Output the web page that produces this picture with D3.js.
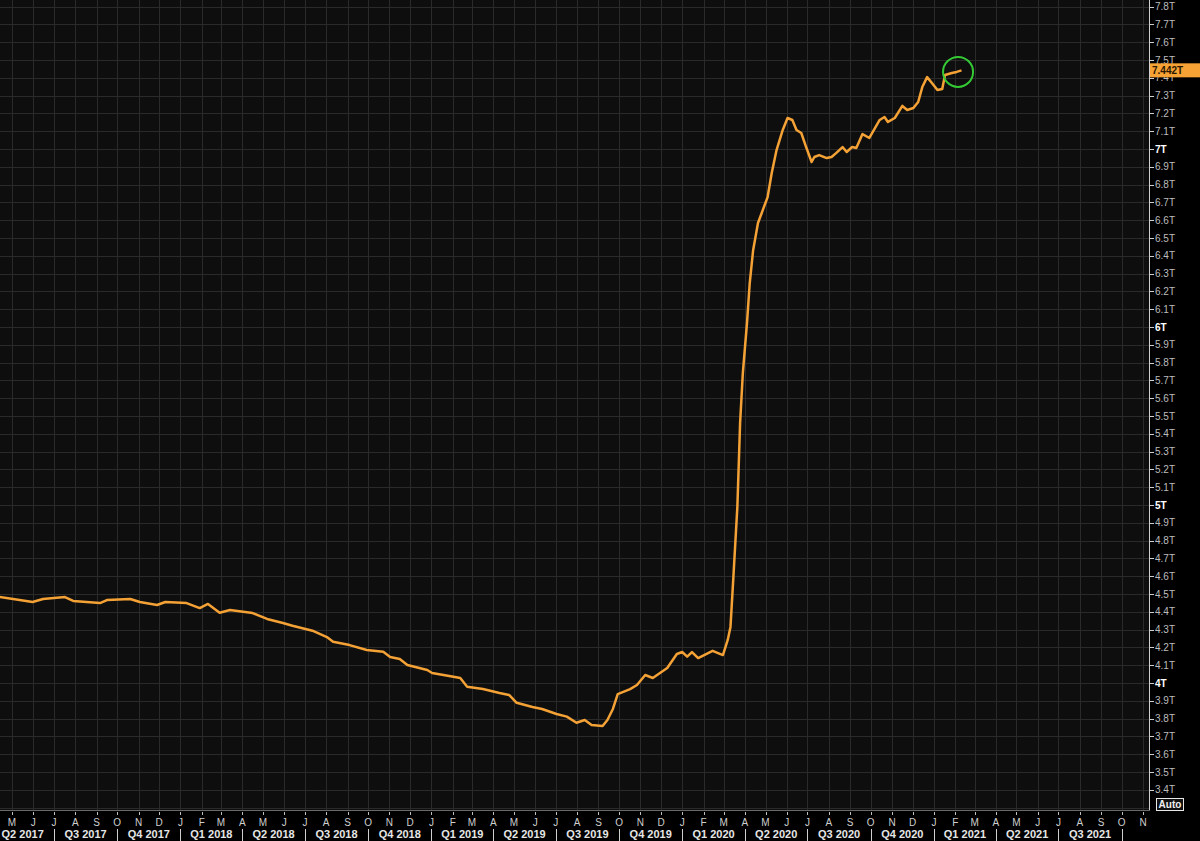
<!DOCTYPE html>
<meta charset="utf-8">
<title>Fed balance sheet</title>
<style>
body {
  margin: 0;
  background: #000;
}
text {
  font-family: "Liberation Sans", Arial, sans-serif;
}
</style>
<body>
<div id="chart"></div>
<script src="https://cdn.jsdelivr.net/npm/d3@7"></script>
<script>
// weekly readings (trillions of USD)
const dates = [
  "2017-04-13","2017-05-31","2017-06-15","2017-07-17","2017-07-29","2017-09-06","2017-09-16",
  "2017-10-20","2017-11-03","2017-11-28","2017-12-10","2018-01-10","2018-01-29","2018-02-10",
  "2018-02-27","2018-03-14","2018-04-16","2018-05-07","2018-05-30","2018-06-13","2018-07-12",
  "2018-08-02","2018-08-11","2018-09-04","2018-09-29","2018-10-23","2018-11-02","2018-11-16",
  "2018-11-27","2018-12-26","2019-01-02","2019-02-02","2019-02-12","2019-02-22","2019-03-17",
  "2019-04-10","2019-04-24","2019-05-05","2019-05-28","2019-06-11","2019-07-02","2019-07-17",
  "2019-07-31","2019-08-12","2019-08-22","2019-09-07","2019-09-14","2019-09-22","2019-09-29",
  "2019-10-17","2019-10-27","2019-11-08","2019-11-19","2019-12-10","2019-12-24","2020-01-01",
  "2020-01-08","2020-01-15","2020-01-24","2020-02-14","2020-02-29","2020-03-07","2020-03-11",
  "2020-03-15","2020-03-21","2020-03-25","2020-03-29","2020-04-04","2020-04-08","2020-04-13",
  "2020-04-20","2020-05-04","2020-05-10","2020-05-17","2020-05-26","2020-06-02","2020-06-09",
  "2020-06-15","2020-06-22","2020-06-29","2020-07-07","2020-07-11","2020-07-18","2020-07-29",
  "2020-08-05","2020-08-12","2020-08-21","2020-08-27","2020-09-04","2020-09-10","2020-09-19",
  "2020-09-29","2020-10-14","2020-10-21","2020-10-26","2020-11-05","2020-11-16","2020-11-23",
  "2020-12-02","2020-12-09","2020-12-15","2020-12-22","2020-12-29","2021-01-06","2021-01-13",
  "2021-01-17","2021-01-27","2021-02-03","2021-02-10"
];
const values = [
  4.483,4.455,4.472,4.483,4.461,4.449,4.466,
  4.472,4.455,4.438,4.455,4.449,4.421,4.444,
  4.395,4.410,4.393,4.360,4.337,4.322,4.294,
  4.258,4.232,4.213,4.185,4.176,4.146,4.135,
  4.101,4.073,4.056,4.035,4.028,3.979,3.966,
  3.944,3.933,3.889,3.865,3.854,3.826,3.811,
  3.777,3.792,3.764,3.758,3.792,3.854,3.938,
  3.966,3.989,4.045,4.028,4.084,4.163,4.174,
  4.148,4.174,4.140,4.181,4.157,4.242,4.315,
  4.579,4.989,5.461,5.742,6.022,6.247,6.433,
  6.584,6.730,6.865,6.994,7.107,7.174,7.163,
  7.107,7.090,7.011,6.927,6.955,6.966,6.949,
  6.955,6.978,7.011,6.983,7.011,7.006,7.084,
  7.062,7.163,7.180,7.152,7.174,7.242,7.219,
  7.230,7.264,7.348,7.404,7.371,7.331,7.337,
  7.416,7.427,7.433,7.442
];
const lastValue = 7.442;
const lastLabel = "7.442T";
const circleDate = "2021-02-05";
const circleValue = 7.433;
const monthLetters = ["J","F","M","A","M","J","J","A","S","O","N","D"];

const width = 1200;
const height = 841;
const plotRight = 1149;
const plotBottom = 810;

const parse = d3.utcParse("%Y-%m-%d");
const data = dates.map((d, i) => ({date: parse(d), value: values[i]}));

const x = d3.scaleUtc()
    .domain([new Date(Date.UTC(2017, 4, 1)), new Date(Date.UTC(2021, 10, 1))])
    .range([12, 1143]);

const y = d3.scaleLinear()
    .domain([4, 7])
    .range([683, 149]);

const svg = d3.select("#chart")
  .append("svg")
    .attr("width", width)
    .attr("height", height)
    .style("display", "block");

svg.append("rect")
    .attr("width", width)
    .attr("height", height)
    .attr("fill", "#000");

svg.append("rect")
    .attr("width", plotRight)
    .attr("height", plotBottom)
    .attr("fill", "#0e0e0e");

// grid
const months = d3.utcMonth.range(x.invert(0), x.invert(plotRight + 1));
svg.append("g")
  .selectAll("line")
  .data(months)
  .join("line")
    .attr("x1", d => Math.round(x(d)) + 0.5)
    .attr("x2", d => Math.round(x(d)) + 0.5)
    .attr("y1", 0)
    .attr("y2", plotBottom)
    .attr("stroke", "#2a2a2a")
    .attr("stroke-width", 1);

const yTicks = d3.range(33, 79).map(d => d / 10);
svg.append("g")
  .selectAll("line")
  .data(yTicks)
  .join("line")
    .attr("x1", 0)
    .attr("x2", plotRight)
    .attr("y1", d => Math.round(y(d)) + 0.5)
    .attr("y2", d => Math.round(y(d)) + 0.5)
    .attr("stroke", "#2a2a2a")
    .attr("stroke-width", 1);

// frame
svg.append("line")
    .attr("x1", plotRight + 0.5).attr("x2", plotRight + 0.5)
    .attr("y1", 0).attr("y2", plotBottom + 1)
    .attr("stroke", "#cfcfcf");
svg.append("line")
    .attr("x1", 0).attr("x2", plotRight + 1)
    .attr("y1", plotBottom + 0.5).attr("y2", plotBottom + 0.5)
    .attr("stroke", "#6a6a6a");

// right axis
const axisTicks = yTicks.filter(d => d >= 3.4);
const isWhole = d => Math.abs(d - Math.round(d)) < 1e-9;
const yAxis = svg.append("g");
yAxis.selectAll("line")
  .data(axisTicks)
  .join("line")
    .attr("x1", plotRight)
    .attr("x2", plotRight + 5)
    .attr("y1", d => Math.round(y(d)) + 0.5)
    .attr("y2", d => Math.round(y(d)) + 0.5)
    .attr("stroke", "#cfcfcf");
yAxis.selectAll("text")
  .data(axisTicks)
  .join("text")
    .attr("x", plotRight + 6)
    .attr("y", d => y(d) + 3.5)
    .attr("font-size", 10)
    .attr("fill", d => isWhole(d) ? "#ffffff" : "#bdbdbd")
    .attr("font-weight", d => isWhole(d) ? "bold" : "normal")
    .text(d => d3.format("~g")(d) + "T");

// Auto box
svg.append("rect")
    .attr("x", 1156.5).attr("y", 798.5)
    .attr("width", 27).attr("height", 12)
    .attr("fill", "#111").attr("stroke", "#e8e8e8");
svg.append("text")
    .attr("x", 1170).attr("y", 808)
    .attr("text-anchor", "middle")
    .attr("font-size", 10).attr("font-weight", "bold")
    .attr("fill", "#f0f0f0")
    .text("Auto");

// bottom axis: months
const xAxis = svg.append("g");
const shownMonths = months.filter(d => x(d) >= 5 && x(d) <= 1146);
xAxis.selectAll("line")
  .data(shownMonths)
  .join("line")
    .attr("x1", d => Math.round(x(d)) + 0.5)
    .attr("x2", d => Math.round(x(d)) + 0.5)
    .attr("y1", plotBottom + 2)
    .attr("y2", plotBottom + 5)
    .attr("stroke", "#bdbdbd");
xAxis.selectAll("text")
  .data(shownMonths)
  .join("text")
    .attr("x", d => x(d))
    .attr("y", 826)
    .attr("text-anchor", "middle")
    .attr("font-size", 10)
    .attr("fill", "#cfcfcf")
    .text(d => monthLetters[d.getUTCMonth()]);

// quarters: Q2 2017 .. Q3 2021
const quarters = d3.utcMonth.every(3).range(new Date(Date.UTC(2017, 3, 1)), new Date(Date.UTC(2021, 7, 1)));
const quarterBreaks = quarters.slice(1).concat([d3.utcMonth.offset(quarters[quarters.length - 1], 3)]);
xAxis.append("g")
  .selectAll("line")
  .data(quarterBreaks)
  .join("line")
    .attr("x1", d => Math.round(x(d)) + 0.5)
    .attr("x2", d => Math.round(x(d)) + 0.5)
    .attr("y1", 829)
    .attr("y2", 841)
    .attr("stroke", "#cfcfcf");
xAxis.append("g")
  .selectAll("text")
  .data(quarters)
  .join("text")
    .attr("x", d => (x(d) + x(d3.utcMonth.offset(d, 3))) / 2)
    .attr("y", 838)
    .attr("text-anchor", "middle")
    .attr("font-size", 11)
    .attr("font-weight", "bold")
    .attr("fill", "#e6e6e6")
    .text(d => "Q" + (Math.floor(d.getUTCMonth() / 3) + 1) + " " + d.getUTCFullYear());

// series
const line = d3.line()
    .x(d => x(d.date))
    .y(d => y(d.value));

svg.append("path")
    .datum(data)
    .attr("d", line)
    .attr("fill", "none")
    .attr("stroke", "#f4a236")
    .attr("stroke-width", 2.5)
    .attr("stroke-linejoin", "round");

// highlight circle
svg.append("circle")
    .attr("cx", x(parse(circleDate)))
    .attr("cy", y(circleValue))
    .attr("r", 15)
    .attr("fill", "none")
    .attr("stroke", "#34c934")
    .attr("stroke-width", 2);

// last value tag
svg.append("rect")
    .attr("x", plotRight + 1)
    .attr("y", y(lastValue) - 7)
    .attr("width", width - plotRight - 1)
    .attr("height", 14)
    .attr("fill", "#f7a234");
svg.append("text")
    .attr("x", plotRight + 3)
    .attr("y", y(lastValue) + 4)
    .attr("font-size", 10)
    .attr("font-weight", "bold")
    .attr("fill", "#2a1700")
    .text(lastLabel);
</script>
</body>
</html>
